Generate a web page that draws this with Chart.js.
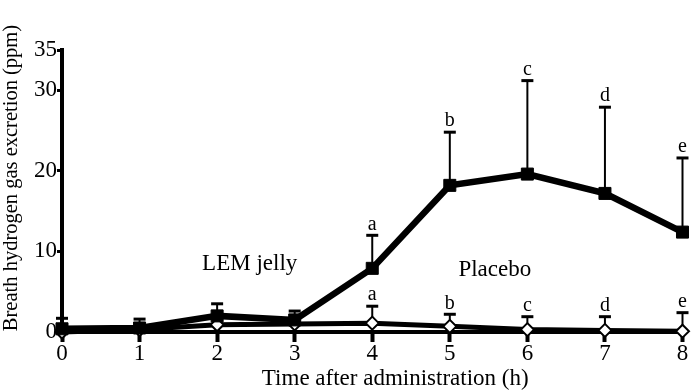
<!DOCTYPE html>
<html>
<head>
<meta charset="utf-8">
<script src="https://cdn.jsdelivr.net/npm/chart.js@4.4.1/dist/chart.umd.min.js"></script>
<style>
  html, body { margin: 0; padding: 0; background: #fff; }
  #wrap { width: 692px; height: 392px; }
</style>
</head>
<body>
<div id="wrap"><canvas id="c" width="692" height="392"></canvas></div>
<script>
// ---- data ----
const hours = [0, 1, 2, 3, 4, 5, 6, 7, 8];
const lemJelly = [0.4, 0.5, 2.0, 1.5, 7.9, 18.2, 19.6, 17.2, 12.4];
const lemJellyUpper = [1.7, 1.6, 3.5, 2.6, 12.0, 24.8, 31.2, 27.9, 21.6];
const placebo = [0, 0.3, 0.9, 1.0, 1.1, 0.7, 0.3, 0.2, 0.1];
const placeboUpper = [null, null, null, null, 3.2, 2.2, 1.9, 1.9, 2.4];
const sigLetters = ['', '', '', '', 'a', 'b', 'c', 'd', 'e'];
const yTickValues = [0, 10, 20, 30, 35];
const xTitle = 'Time after administration (h)';
const yTitle = 'Breath hydrogen gas excretion (ppm)';
const seriesNames = ['LEM jelly', 'Placebo'];

const FONT = "'Liberation Serif', 'Times New Roman', serif";

const errorBarPlugin = {
  id: 'errorBars',
  beforeDatasetsDraw(chart) {
    const ctx = chart.ctx;
    const xs = chart.scales.x, ys = chart.scales.y;
    const sets = [
      { vals: lemJelly, up: lemJellyUpper },
      { vals: placebo, up: placeboUpper }
    ];
    ctx.save();
    ctx.strokeStyle = '#000';
    sets.forEach(s => {
      hours.forEach((h, i) => {
        if (s.up[i] == null) return;
        const x = xs.getPixelForValue(h);
        const y0 = ys.getPixelForValue(s.vals[i]);
        const y1 = ys.getPixelForValue(s.up[i]);
        ctx.lineWidth = 2;
        ctx.beginPath(); ctx.moveTo(x, y0); ctx.lineTo(x, y1); ctx.stroke();
        ctx.lineWidth = 3;
        ctx.beginPath(); ctx.moveTo(x - 6, y1); ctx.lineTo(x + 6, y1); ctx.stroke();
      });
    });
    ctx.restore();
  },
  afterDatasetsDraw(chart) {
    const ctx = chart.ctx;
    const xs = chart.scales.x, ys = chart.scales.y;
    const area = chart.chartArea;
    ctx.save();
    ctx.fillStyle = '#000';
    ctx.textAlign = 'center';
    ctx.textBaseline = 'bottom';
    ctx.font = '20px ' + FONT;
    [lemJellyUpper, placeboUpper].forEach(up => {
      hours.forEach((h, i) => {
        if (!sigLetters[i] || up[i] == null) return;
        ctx.fillText(sigLetters[i], xs.getPixelForValue(h), ys.getPixelForValue(up[i]) - 1);
      });
    });
    // series name annotations, placed in data coordinates
    ctx.font = '23px ' + FONT;
    ctx.textBaseline = 'middle';
    ctx.fillText(seriesNames[0], xs.getPixelForValue(2.42), ys.getPixelForValue(8.5));
    ctx.fillText(seriesNames[1], xs.getPixelForValue(5.58), ys.getPixelForValue(7.7));
    // axis titles (slightly off-centre, as in the reference)
    ctx.fillText(xTitle, (area.left + area.right) / 2 + 23, chart.height - 13);
    ctx.save();
    ctx.translate(12, (area.top + area.bottom) / 2 - 13);
    ctx.rotate(-Math.PI / 2);
    ctx.font = '20.5px ' + FONT;
    ctx.fillText(yTitle, 0, 0);
    ctx.restore();
    ctx.restore();
  }
};

new Chart(document.getElementById('c'), {
  type: 'line',
  data: {
    datasets: [
      {
        label: seriesNames[0],
        data: hours.map((h, i) => ({ x: h, y: lemJelly[i] })),
        borderColor: '#000',
        borderWidth: 6.5,
        pointStyle: 'rect',
        pointRadius: 8.5,
        pointBorderWidth: 1,
        pointBackgroundColor: '#000',
        pointBorderColor: '#000',
        clip: false,
        tension: 0
      },
      {
        label: seriesNames[1],
        data: hours.map((h, i) => ({ x: h, y: placebo[i] })),
        borderColor: '#000',
        borderWidth: 5,
        pointStyle: 'rectRot',
        pointRadius: 6.5,
        pointBorderWidth: 2,
        pointBackgroundColor: '#fff',
        pointBorderColor: '#000',
        clip: false,
        tension: 0
      }
    ]
  },
  options: {
    responsive: false,
    animation: false,
    events: [],
    layout: { padding: { top: 50, right: 9, left: 0, bottom: 0 } },
    plugins: { legend: { display: false }, tooltip: { enabled: false } },
    scales: {
      x: {
        type: 'linear',
        min: 0, max: 8,
        afterFit(scale) { scale.height = 60; },
        afterBuildTicks(scale) { scale.ticks = hours.map(v => ({ value: v })); },
        border: { display: true, color: '#000', width: 4 },
        grid: { drawOnChartArea: false, drawTicks: true, tickLength: 10, tickWidth: 4, tickColor: '#000' },
        ticks: { color: '#000', font: { family: FONT, size: 23 }, padding: -2, maxRotation: 0 },
        title: { display: false }
      },
      y: {
        type: 'linear',
        min: 0, max: 35,
        afterFit(scale) { scale.width = 62; },
        afterBuildTicks(scale) { scale.ticks = yTickValues.map(v => ({ value: v })); },
        border: { display: true, color: '#000', width: 4 },
        grid: { drawOnChartArea: false, drawTicks: true, tickLength: 5, tickWidth: 3, tickColor: '#000' },
        ticks: { color: '#000', font: { family: FONT, size: 23 }, padding: 0 },
        title: { display: false }
      }
    }
  },
  plugins: [errorBarPlugin]
});
</script>
</body>
</html>
